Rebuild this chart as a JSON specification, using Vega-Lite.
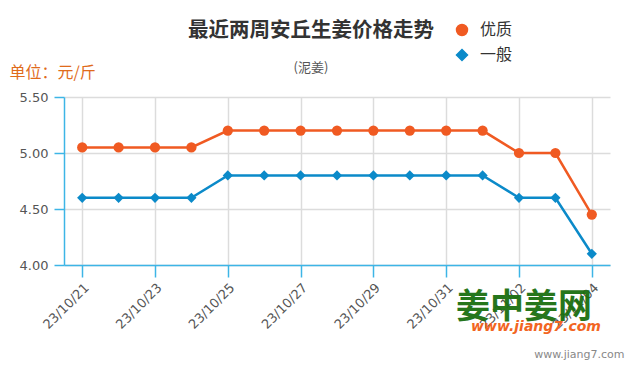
{
  "$schema": "https://vega.github.io/schema/vega-lite/v6.json",
  "width": 546,
  "height": 168,
  "autosize": {"type": "none"},
  "padding": {"left": 64, "top": 97, "right": 25, "bottom": 110},
  "background": "white",
  "config": {
    "view": {"stroke": null},
    "font": "Noto Sans CJK SC",
    "legend": {
      "orient": "none",
      "legendX": 390,
      "legendY": -75,
      "labelFontSize": 16,
      "labelColor": "#333333",
      "symbolSize": 120,
      "rowPadding": 7,
      "labelOffset": 10
    }
  },
  "title": {
    "text": "最近两周安丘生姜价格走势",
    "subtitle": "(泥姜)",
    "anchor": "middle",
    "frame": "group",
    "dx": -26,
    "fontSize": 20.5,
    "fontWeight": "bold",
    "color": "#333333",
    "subtitleFontSize": 13,
    "subtitleColor": "#555555",
    "subtitlePadding": 21,
    "offset": -53
  },
  "datasets": {
    "prices": [
      {"date": "23/10/21", "grade": "优质", "price": 5.05},
      {"date": "23/10/22", "grade": "优质", "price": 5.05},
      {"date": "23/10/23", "grade": "优质", "price": 5.05},
      {"date": "23/10/24", "grade": "优质", "price": 5.05},
      {"date": "23/10/25", "grade": "优质", "price": 5.2},
      {"date": "23/10/26", "grade": "优质", "price": 5.2},
      {"date": "23/10/27", "grade": "优质", "price": 5.2},
      {"date": "23/10/28", "grade": "优质", "price": 5.2},
      {"date": "23/10/29", "grade": "优质", "price": 5.2},
      {"date": "23/10/30", "grade": "优质", "price": 5.2},
      {"date": "23/10/31", "grade": "优质", "price": 5.2},
      {"date": "23/11/01", "grade": "优质", "price": 5.2},
      {"date": "23/11/02", "grade": "优质", "price": 5.0},
      {"date": "23/11/03", "grade": "优质", "price": 5.0},
      {"date": "23/11/04", "grade": "优质", "price": 4.45},
      {"date": "23/10/21", "grade": "一般", "price": 4.6},
      {"date": "23/10/22", "grade": "一般", "price": 4.6},
      {"date": "23/10/23", "grade": "一般", "price": 4.6},
      {"date": "23/10/24", "grade": "一般", "price": 4.6},
      {"date": "23/10/25", "grade": "一般", "price": 4.8},
      {"date": "23/10/26", "grade": "一般", "price": 4.8},
      {"date": "23/10/27", "grade": "一般", "price": 4.8},
      {"date": "23/10/28", "grade": "一般", "price": 4.8},
      {"date": "23/10/29", "grade": "一般", "price": 4.8},
      {"date": "23/10/30", "grade": "一般", "price": 4.8},
      {"date": "23/10/31", "grade": "一般", "price": 4.8},
      {"date": "23/11/01", "grade": "一般", "price": 4.8},
      {"date": "23/11/02", "grade": "一般", "price": 4.6},
      {"date": "23/11/03", "grade": "一般", "price": 4.6},
      {"date": "23/11/04", "grade": "一般", "price": 4.1}
    ],
    "logo": [
      {"name": "姜中姜网", "site": "www.jiang7.com"}
    ]
  },
  "layer": [
    {
      "data": {"name": "prices"},
      "mark": {"type": "line", "strokeWidth": 2.5},
      "encoding": {
        "x": {
          "field": "date",
          "type": "ordinal",
          "sort": null,
          "scale": {"type": "point", "padding": 0.5},
          "axis": {
            "values": ["23/10/21", "23/10/23", "23/10/25", "23/10/27", "23/10/29", "23/10/31", "23/11/02", "23/11/04"],
            "labelAngle": -45,
            "labelFontSize": 13,
            "labelColor": "#555555",
            "labelFont": "DejaVu Sans",
            "labelPadding": 4,
            "domainColor": "#3db5e6",
            "domainWidth": 1.5,
            "tickColor": "#3db5e6",
            "tickSize": 12,
            "tickWidth": 1.5,
            "grid": true,
            "gridColor": "#dcdcdc",
            "gridWidth": 1.5,
            "title": "www.jiang7.com",
            "titleFont": "DejaVu Sans",
            "titleFontSize": 11,
            "titleFontWeight": "normal",
            "titleColor": "#888888",
            "titleAnchor": "end",
            "titleAlign": "right",
            "titleX": 560,
            "titleY": 92,
            "titleBaseline": "alphabetic"
          }
        },
        "y": {
          "field": "price",
          "type": "quantitative",
          "scale": {"domain": [4, 5.5], "zero": false, "nice": false},
          "axis": {
            "values": [4, 4.25, 4.5, 4.75, 5, 5.25, 5.5],
            "format": ".2f",
            "labelFontSize": 13,
            "labelColor": "#555555",
            "labelFont": "DejaVu Sans",
            "labelPadding": 6,
            "domainColor": "#3db5e6",
            "domainWidth": 1.5,
            "tickColor": "#3db5e6",
            "tickSize": 10,
            "tickWidth": 1.5,
            "grid": true,
            "gridColor": "#dcdcdc",
            "gridWidth": 1.5,
            "title": "单位：元/斤",
            "titleAngle": 0,
            "titleAlign": "left",
            "titleBaseline": "alphabetic",
            "titleX": -55,
            "titleY": -20,
            "titleFontSize": 16,
            "titleFontWeight": "normal",
            "titleColor": "#e06b1b"
          }
        },
        "color": {
          "field": "grade",
          "type": "nominal",
          "sort": ["优质", "一般"],
          "scale": {"domain": ["优质", "一般"], "range": ["#f05a22", "#0b8ac9"]},
          "legend": {"title": null}
        }
      }
    },
    {
      "data": {"name": "prices"},
      "mark": {"type": "point", "filled": true, "opacity": 1, "size": 105},
      "encoding": {
        "x": {"field": "date", "type": "ordinal", "sort": null},
        "y": {"field": "price", "type": "quantitative"},
        "color": {
          "field": "grade",
          "type": "nominal",
          "sort": ["优质", "一般"],
          "legend": {"title": null}
        },
        "shape": {
          "field": "grade",
          "type": "nominal",
          "sort": ["优质", "一般"],
          "scale": {"domain": ["优质", "一般"], "range": ["circle", "diamond"]},
          "legend": {"title": null}
        }
      }
    },
    {
      "data": {"name": "logo"},
      "mark": {"type": "text", "fontSize": 34, "fontWeight": "bold", "color": "#1b6f10", "font": "Noto Sans CJK SC", "dx": 5, "opacity": 0.95},
      "encoding": {
        "x": {"datum": "23/11/02", "type": "ordinal"},
        "y": {"datum": 3.62, "type": "quantitative"},
        "text": {"field": "name"}
      }
    },
    {
      "data": {"name": "logo"},
      "mark": {"type": "text", "fontSize": 14, "fontWeight": "bold", "fontStyle": "italic", "color": "#f26522", "font": "DejaVu Sans", "dx": 17},
      "encoding": {
        "x": {"datum": "23/11/02", "type": "ordinal"},
        "y": {"datum": 3.45, "type": "quantitative"},
        "text": {"field": "site"}
      }
    }
  ]
}
